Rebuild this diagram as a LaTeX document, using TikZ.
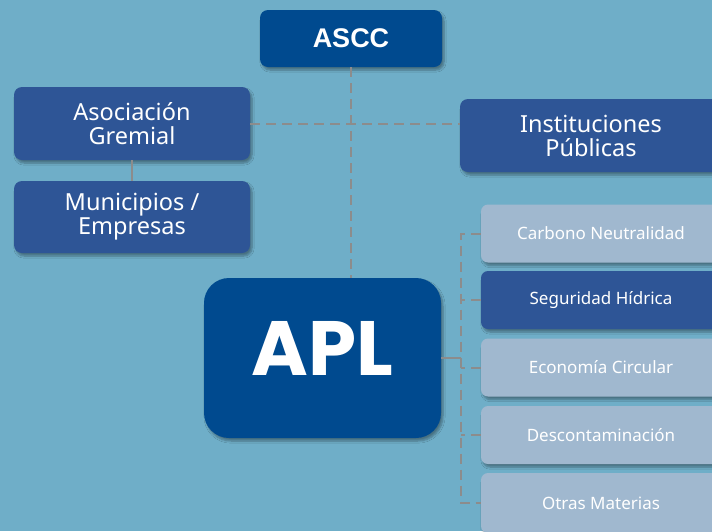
\documentclass[tikz,border=0pt]{standalone}
\usepackage{fontspec}
\setmainfont{Noto Sans}
\newfontfamily\aplfont{Poppins}
\newfontfamily\asccfont{Liberation Sans}
\usetikzlibrary{shadows.blur}
\definecolor{bgc}{RGB}{111,174,200}
\definecolor{navy}{RGB}{0,74,143}
\definecolor{midblue}{RGB}{46,85,150}
\definecolor{paleblue}{RGB}{160,184,207}
\definecolor{dashgray}{RGB}{140,140,140}
\tikzset{
  shad/.style={blur shadow={shadow xshift=2pt, shadow yshift=-3pt, shadow blur steps=6, shadow opacity=35}},
  bigbox/.style={shad, rounded corners=8pt, text=white, align=center, inner sep=0pt},
  smallbox/.style={shad, rounded corners=7pt, text=white, align=center, inner sep=0pt, minimum width=240pt, minimum height=58pt, fill=paleblue, font=\fontsize{17}{19}\selectfont},
  dashline/.style={draw=dashgray, line width=2pt, dash pattern=on 10pt off 6pt},
  solidline/.style={draw=dashgray, line width=2pt}
}
\begin{document}
\begin{tikzpicture}[x=1pt, y=-1pt]
\fill[bgc] (0,0) rectangle (712,531);
\useasboundingbox (0,0) rectangle (712,531);

\node[bigbox, fill=navy, minimum width=182pt, minimum height=57pt, font=\asccfont\bfseries\fontsize{27}{30}\selectfont] (ascc) at (351,38.5) {ASCC};
\node[bigbox, fill=midblue, minimum width=236pt, minimum height=73pt, font=\fontsize{23.5}{24}\selectfont] (ag) at (132,123.5) {Asociación\\Gremial};
\node[bigbox, fill=midblue, minimum width=236pt, minimum height=72pt, font=\fontsize{23.5}{24}\selectfont] (me) at (132,217) {Municipios /\\Empresas};
\node[bigbox, fill=midblue, minimum width=262pt, minimum height=73pt, font=\fontsize{23.5}{24}\selectfont] (ip) at (591,135.5) {Instituciones\\Públicas};
\node[bigbox, rounded corners=25pt, fill=navy, minimum width=237pt, minimum height=160pt, font=\aplfont\bfseries\fontsize{77}{80}\selectfont] (apl) at (322.5,358) {\raisebox{20pt}{APL}};

\node[smallbox] (c1) at (601,233.5) {Carbono Neutralidad};
\node[smallbox, fill=midblue] (c2) at (601,300) {Seguridad Hídrica};
\node[smallbox] (c3) at (601,367.5) {Economía Circular};
\node[smallbox] (c4) at (601,435) {Descontaminación};
\node[smallbox, minimum height=60pt] (c5) at (601,503) {Otras Materias};

\coordinate (bx) at (461,0);

\draw[solidline] (ag.south) -- (me.north);
\draw[dashline] (ag.east) -- (ag.east -| ip.west);
\draw[dashline] (ascc.south) -- (ascc.south |- apl.north);
\draw[solidline] (apl.east) -- (apl.east -| bx);
\draw[dashline] (c1.west) -- (c1.west -| bx) -- (c5.west -| bx) -- (c5.west);
\draw[dashline] (c2.west) -- (c2.west -| bx);
\draw[dashline] (c3.west) -- (c3.west -| bx);
\draw[dashline] (c4.west) -- (c4.west -| bx);
\end{tikzpicture}
\end{document}
